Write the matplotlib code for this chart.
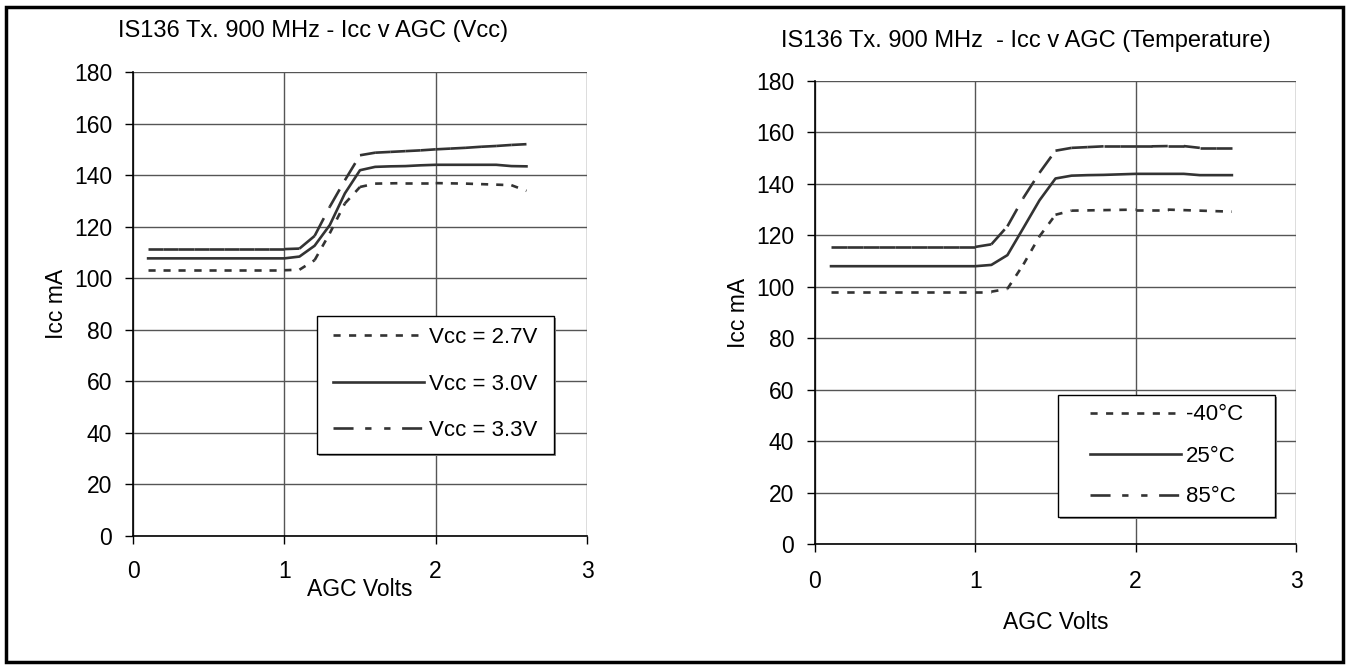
import numpy as np
import matplotlib
matplotlib.use('Agg')
from matplotlib import pyplot as plt
from matplotlib.patches import Rectangle
from matplotlib.collections import LineCollection

plt.rcParams['font.family'] = ['Liberation Sans', 'DejaVu Sans']

# AGC volts
agc = [0.1, 0.2, 0.3, 0.4, 0.5, 0.6, 0.7, 0.8, 0.9, 1.0, 1.1, 1.2, 1.3,
       1.4, 1.5, 1.6, 1.7, 1.8, 1.9, 2.0, 2.1, 2.2, 2.3, 2.4, 2.5, 2.6]

# Icc vs AGC for supply voltage
icc_27 = [103.1, 103.1, 103.1, 103.1, 103.1, 103.1, 103.1, 103.1, 103.1, 103.1, 103.3, 107.0, 117.4,
          129.0, 135.4, 136.7, 136.8, 136.9, 136.9, 136.9, 136.8, 136.7, 136.5, 136.3, 136.1, 133.9]
icc_30 = [107.7, 107.7, 107.7, 107.7, 107.7, 107.7, 107.7, 107.7, 107.7, 107.7, 108.4, 112.6, 120.6,
          132.9, 141.9, 143.2, 143.4, 143.5, 143.8, 144.0, 144.0, 144.0, 144.0, 144.0, 143.5, 143.4]
icc_33 = [111.3, 111.3, 111.3, 111.3, 111.3, 111.3, 111.3, 111.3, 111.3, 111.3, 111.5, 116.4, 127.7,
          138.0, 147.7, 148.7, 149.0, 149.3, 149.6, 150.0, 150.3, 150.6, 151.0, 151.3, 151.7, 152.0]
vcc_labels = ['Vcc = 2.7V', 'Vcc = 3.0V', 'Vcc = 3.3V']

# Icc vs AGC for temperature
icc_m40 = [98.1, 98.1, 98.1, 98.1, 98.1, 98.1, 98.1, 98.1, 98.1, 98.1, 98.1, 99.2, 108.7,
           119.6, 128.0, 129.6, 129.7, 129.8, 129.9, 130.0, 130.0, 130.0, 129.8, 129.6, 129.4, 129.2]
icc_25 = [108.0, 108.0, 108.0, 108.0, 108.0, 108.0, 108.0, 108.0, 108.0, 108.0, 108.5, 112.3, 122.9,
          133.6, 142.1, 143.2, 143.4, 143.5, 143.7, 143.9, 143.9, 143.9, 143.9, 143.4, 143.4, 143.4]
icc_85 = [115.5, 115.5, 115.5, 115.5, 115.5, 115.5, 115.5, 115.5, 115.5, 115.5, 116.5, 123.5, 134.6,
          144.3, 152.9, 154.0, 154.3, 154.6, 154.6, 154.6, 154.6, 154.7, 154.7, 154.0, 154.0, 154.0]
temp_labels = ['-40°C', '25°C', '85°C']

W, H = 1349, 669
fig = plt.figure(figsize=(W/100, H/100), dpi=100)
fs = 16.5
lc = '#333333'
lw = 1.9
dot = (2.7, 3.2)
dashdotdot = (7.6, 4.4, 2.4, 4.8, 2.4, 4.4)

def setup(ax, xpad, xlabelpad):
    ax.set_xlim(0, 3)
    ax.set_ylim(0, 180)
    ax.set_xticks([0, 1, 2, 3])
    ax.set_yticks(np.arange(0, 181, 20))
    ax.grid(True, color='#555555', linewidth=1.0)
    ax.set_axisbelow(True)
    for s in ['top', 'right']:
        ax.spines[s].set_visible(False)
    for s in ['left', 'bottom']:
        ax.spines[s].set_color('black')
        ax.spines[s].set_linewidth(1.2)
    ax.tick_params(direction='out', length=6, width=1, labelsize=fs, pad=9)
    ax.tick_params(axis='x', pad=xpad)
    ax.set_xlabel('AGC Volts', fontsize=fs, labelpad=xlabelpad)
    ax.set_ylabel('Icc mA', fontsize=fs, labelpad=4)

def pos(x0, x1, ytop, ybot):
    return [x0/W, 1-ybot/H, (x1-x0)/W, (ybot-ytop)/H]

def series(ax, x, y, dashes, label):
    # the dash pattern starts again at every data point, like the original chart
    if dashes is None:
        ax.plot(x, y, color=lc, lw=lw, label=label)
        return
    pts = np.column_stack([x, y])
    segs = np.stack([pts[:-1], pts[1:]], axis=1)
    ax.add_collection(LineCollection(segs, colors=lc, linewidths=lw, linestyles=[(0, dashes)],
                                     capstyle='butt'))
    ax.plot([], [], color=lc, lw=lw, dashes=dashes, label=label)

def legend_box(ax, x0, x1, ytop, ybot):
    # drop shadow + white box behind the legend entries
    ax.add_patch(Rectangle(((x0+2)/W, 1-(ybot+2)/H), (x1-x0)/W, (ybot-ytop)/H,
                           transform=fig.transFigure, facecolor='#888888', edgecolor='none',
                           zorder=4, clip_on=False))
    ax.add_patch(Rectangle((x0/W, 1-ybot/H), (x1-x0)/W, (ybot-ytop)/H,
                           transform=fig.transFigure, facecolor='white', edgecolor='black',
                           linewidth=1.0, zorder=4.5, clip_on=False))

def legend_at(ax, x, ymid, spacing):
    leg = ax.legend(loc='center left', bbox_to_anchor=(x/W, 1-ymid/H), bbox_transform=fig.transFigure,
                    borderaxespad=0, borderpad=0, fontsize=16, handlelength=4.1, handletextpad=0.22,
                    labelspacing=spacing, frameon=False)
    leg.set_zorder(6)

ax1 = fig.add_axes(pos(133, 587, 72, 536))
setup(ax1, 11, -3)
series(ax1, agc, icc_27, dot, vcc_labels[0])
series(ax1, agc, icc_30, None, vcc_labels[1])
series(ax1, agc, icc_33, dashdotdot, vcc_labels[2])
legend_box(ax1, 317, 554, 316, 454)
legend_at(ax1, 333, 384, 1.15)

ax2 = fig.add_axes(pos(815, 1296, 81, 544))
setup(ax2, 13, 13)
series(ax2, agc, icc_m40, dot, temp_labels[0])
series(ax2, agc, icc_25, None, temp_labels[1])
series(ax2, agc, icc_85, dashdotdot, temp_labels[2])
legend_box(ax2, 1058, 1275, 395, 517)
legend_at(ax2, 1090, 456, 0.9)

fig.text(313/W, 1-37/H, 'IS136 Tx. 900 MHz - Icc v AGC (Vcc)', ha='center', va='baseline', fontsize=17)
fig.text(1026/W, 1-47/H, 'IS136 Tx. 900 MHz  - Icc v AGC (Temperature)', ha='center', va='baseline', fontsize=17)

# outer frame
fig.patches.append(Rectangle((6/W, 7/H), 1337/W, 655/H, transform=fig.transFigure,
                             fill=False, edgecolor='black', linewidth=2.5))

fig.savefig('out.png', dpi=100)
